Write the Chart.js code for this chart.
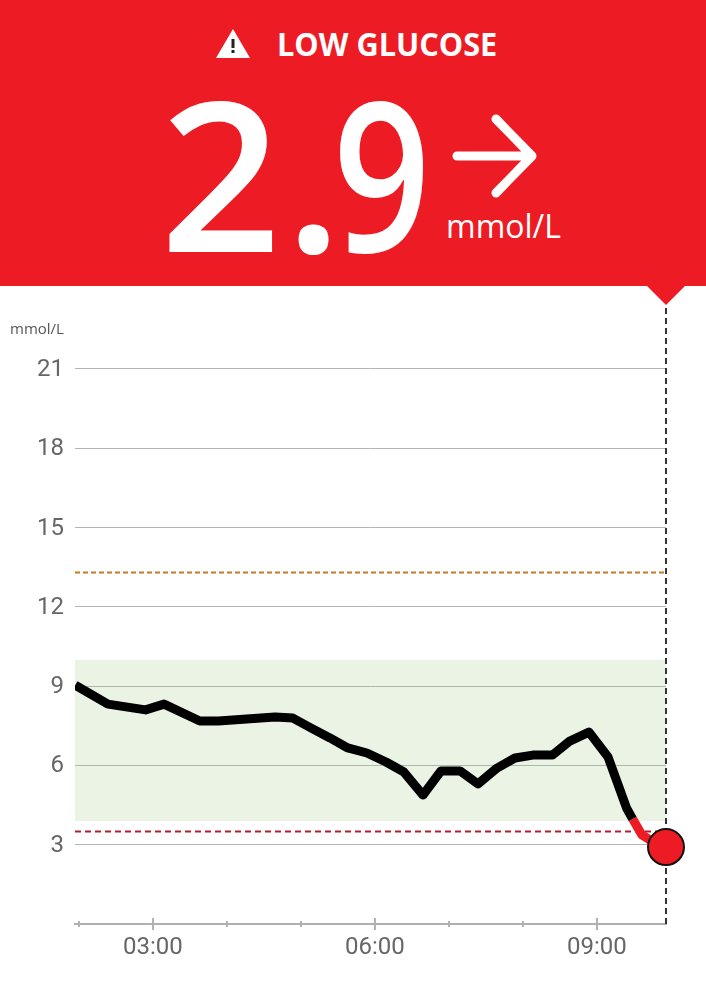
<!DOCTYPE html>
<html>
<head>
<meta charset="utf-8">
<title>Low glucose</title>
<script src="https://cdn.jsdelivr.net/npm/chart.js@4"></script>
<style>
    html, body { margin: 0; padding: 0; background: #fff; }
    #page { position: relative; width: 706px; height: 1000px; overflow: hidden; }
    #grafico { position: absolute; left: 0; top: 0; }
    #topo { position: absolute; left: 0; top: 0; width: 706px; height: 286px; background: #ed1c24; color: #fff; font-family: "Open Sans", sans-serif; }
    #topo div, #topo svg { position: absolute; white-space: nowrap; }
    #seta { position: absolute; left: 647px; top: 286px; width: 38px; height: 19px; background: #ed1c24; clip-path: polygon(0 0, 100% 0, 50% 100%); }
    #titulo { left: 277px; top: 22px; font-size: 33px; line-height: 44px; font-weight: 700; transform: scaleX(0.93); transform-origin: left; }
    .digito { top: 52px; font-size: 208px; line-height: 240px; font-weight: 600; transform-origin: left; }
    #d2 { left: 160px; transform: scaleX(1.02); }
    #ponto { left: 285px; }
    #d9 { left: 333px; transform: scaleX(0.82); }
    #unidade { left: 446px; top: 204px; font-size: 32px; line-height: 44px; }
    #eixo-unidade { position: absolute; left: 10px; top: 318px; font: 15px "Open Sans", sans-serif; color: #555; }
</style>
</head>
<body>
<div id="page">
    <canvas id="grafico" width="706" height="1000"></canvas>
    <div id="topo">
        <svg style="left:215px;top:28px" width="36" height="31" viewBox="0 0 36 31">
            <polygon points="18,1 35,30 1,30" fill="#fff"/>
            <rect x="16.5" y="11" width="3" height="9" fill="#222"/>
            <rect x="16.5" y="22" width="3" height="3" fill="#222"/>
        </svg>
        <div id="titulo">LOW GLUCOSE</div>
        <div class="digito" id="d2">2</div>
        <div class="digito" id="ponto">.</div>
        <div class="digito" id="d9">9</div>
        <svg style="left:446px;top:108px" width="98" height="96" viewBox="0 0 98 96">
            <path d="M11 48 H86 M50 11 L86 48 L50 85" fill="none" stroke="#fff" stroke-width="9" stroke-linecap="round" stroke-linejoin="round"/>
        </svg>
        <div id="unidade">mmol/L</div>
    </div>
    <div id="seta"></div>
    <div id="eixo-unidade">mmol/L</div>
</div>
<script>
// minutes since midnight and mmol/L
const tempos = [117, 143.5, 174, 189, 218, 233, 279, 293.5, 308, 323.5, 338, 353.5, 369, 383.5, 399, 413.5, 429, 443.5, 459, 473.5, 488, 504, 518, 533.5, 549, 564, 569, 576.5, 583, 596];
const glicose = [9.04, 8.32, 8.10, 8.32, 7.68, 7.68, 7.83, 7.79, 7.42, 7.04, 6.66, 6.47, 6.13, 5.75, 4.88, 5.79, 5.79, 5.30, 5.90, 6.28, 6.39, 6.39, 6.92, 7.26, 6.32, 4.39, 3.97, 3.37, 3.18, 2.91];
const horas = [120, 180, 240, 300, 360, 420, 480, 540];
const xMin = 116.8;
const xMax = 596;
const yMax = 23.42;
const alvoAlto = 10;
const alvoBaixo = 3.9;
const limiteBaixo = 3.5;
const limiteAlto = 13.3;
const inicioVermelho = 569;
const rotulosX = { 180: '03:00', 360: '06:00', 540: '09:00' };

function linhaH(valor) {
    return [{ x: xMin, y: valor }, { x: xMax, y: valor }];
}

// small tick marks that cross the axis line, longer under the labelled hours
const marcasX = {
    id: 'marcasX',
    afterDatasetsDraw(chart) {
        const ctx = chart.ctx;
        const escala = chart.scales.x;
        ctx.save();
        ctx.strokeStyle = '#b0b0b0';
        ctx.lineWidth = 2;
        escala.ticks.forEach(t => {
            const px = escala.getPixelForValue(t.value);
            const tam = rotulosX[t.value] ? 6 : 3;
            ctx.beginPath();
            ctx.moveTo(px, escala.top - tam);
            ctx.lineTo(px, escala.top + tam);
            ctx.stroke();
        });
        ctx.restore();
    }
};

new Chart(document.querySelector('#grafico'), {
    type: 'scatter',
    data: {
        datasets: [
            {
                // current reading
                data: [{ x: tempos[tempos.length - 1], y: glicose[glicose.length - 1] }],
                pointRadius: 18,
                pointBackgroundColor: '#ed1c24',
                pointBorderColor: '#111',
                pointBorderWidth: 2,
                clip: false,
                order: 1
            },
            {
                data: tempos.map((t, i) => ({ x: t, y: glicose[i] })),
                showLine: true,
                borderColor: '#000',
                borderWidth: 9,
                borderJoinStyle: 'round',
                pointRadius: 0,
                segment: {
                    borderColor: c => c.p0.parsed.x >= inicioVermelho ? '#ed1c24' : '#000'
                },
                order: 2
            },
            {
                data: [{ x: xMax, y: 0 }, { x: xMax, y: yMax }],
                showLine: true,
                borderColor: '#333',
                borderWidth: 2,
                borderDash: [6, 4],
                pointRadius: 0,
                clip: false,
                order: 3
            },
            {
                data: linhaH(limiteBaixo),
                showLine: true,
                borderColor: '#b01e30',
                borderWidth: 2,
                borderDash: [6, 4],
                pointRadius: 0,
                order: 4
            },
            {
                data: linhaH(limiteAlto),
                showLine: true,
                borderColor: '#c8781e',
                borderWidth: 2,
                borderDash: [5, 3],
                pointRadius: 0,
                order: 5
            },
            {
                // target range band
                data: linhaH(alvoAlto),
                showLine: true,
                borderWidth: 0,
                pointRadius: 0,
                fill: { value: alvoBaixo },
                backgroundColor: 'rgba(157, 200, 120, 0.2)',
                order: 6
            }
        ]
    },
    options: {
        responsive: false,
        animation: false,
        layout: { padding: { top: 305, right: 40, left: 0, bottom: 0 } },
        plugins: { legend: { display: false }, tooltip: { enabled: false } },
        scales: {
            x: {
                type: 'linear',
                min: xMin,
                max: xMax,
                afterFit: s => { s.height = 76; },
                afterBuildTicks: s => { s.ticks = horas.map(h => ({ value: h })); },
                border: { color: '#b0b0b0', width: 2 },
                grid: { display: false },
                ticks: {
                    autoSkip: false,
                    maxRotation: 0,
                    padding: 2,
                    color: '#666',
                    font: { family: 'Roboto', size: 24 },
                    callback: v => rotulosX[v] || ''
                }
            },
            y: {
                min: 0,
                max: yMax,
                afterFit: s => { s.width = 75; },
                border: { display: false },
                grid: { color: '#b5b5b5', lineWidth: 1, drawTicks: false },
                ticks: {
                    stepSize: 3,
                    includeBounds: false,
                    padding: 11,
                    labelOffset: 1,
                    color: '#666',
                    font: { family: 'Roboto', size: 24 },
                    callback: v => v === 0 ? '' : v
                }
            }
        }
    },
    plugins: [marcasX]
});
</script>
</body>
</html>
